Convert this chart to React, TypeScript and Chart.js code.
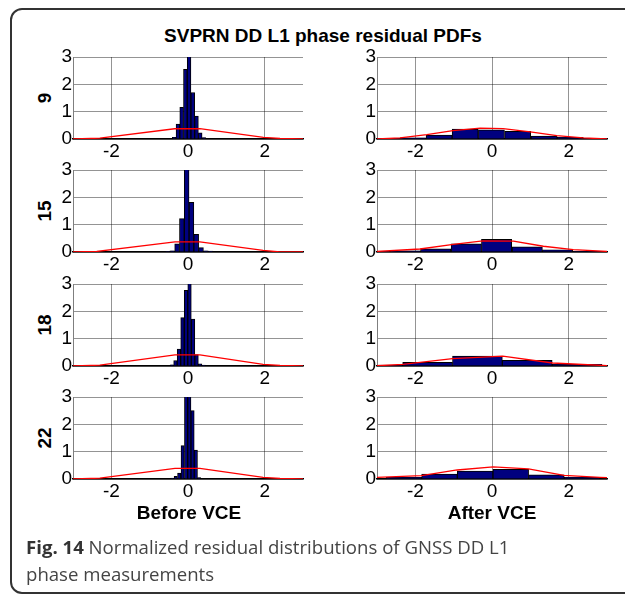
import React, { useEffect, useRef } from "react";
import { Chart, registerables } from "chart.js";

Chart.register(...registerables);

// ---------------- data ----------------
const titleText = "SVPRN DD L1 phase residual PDFs";
const rowLabels = ["9", "15", "18", "22"];
const colTitles = ["Before VCE", "After VCE"];
const xTickValues = [-2, 0, 2];
const yTickValues = [0, 1, 2, 3];

// Before VCE histograms (bin centres / normalised heights)
const before9X = [-0.36, -0.263, -0.166, -0.069, 0.028, 0.125, 0.222, 0.319, 0.416];
const before9Y = [0.06, 0.55, 1.16, 2.55, 3.4, 1.7, 0.84, 0.23, 0.05];
const before15X = [-0.535, -0.41, -0.285, -0.16, -0.035, 0.09, 0.215, 0.34, 0.465, 0.59];
const before15Y = [0.02, 0.04, 0.3, 1.22, 3.4, 1.82, 0.65, 0.16, 0.04, 0.03];
const before18X = [-0.42, -0.328, -0.236, -0.144, -0.052, 0.04, 0.132, 0.224, 0.316, 0.408];
const before18Y = [0.04, 0.2, 0.62, 1.77, 2.77, 3.3, 1.72, 0.42, 0.08, 0.03];
const before22X = [-0.41, -0.32, -0.23, -0.14, -0.05, 0.035, 0.12, 0.205, 0.29];
const before22Y = [0.03, 0.1, 0.22, 1.22, 3.3, 3.5, 2.5, 1.06, 0.05];

// After VCE histograms
const after9X = [-2.74, -2.06, -1.38, -0.7, -0.015, 0.67, 1.36, 2.04, 2.72];
const after9Y = [0.01, 0.04, 0.14, 0.36, 0.34, 0.28, 0.11, 0.06, 0.01];
const after15X = [-3.06, -2.26, -1.47, -0.67, 0.12, 0.92, 1.71, 2.51];
const after15Y = [0.01, 0.04, 0.12, 0.3, 0.46, 0.19, 0.08, 0.02];
const after18X = [-2.98, -1.68, -0.38, 0.92, 2.22];
const after18Y = [0.03, 0.13, 0.36, 0.21, 0.06];
const after22X = [-2.3, -1.37, -0.44, 0.49, 1.42, 2.35];
const after22Y = [0.06, 0.18, 0.29, 0.35, 0.15, 0.06];

const beforeCurve9X = [-3, -2.3, -0.35, 0.31, 1.97, 2.4, 3];
const beforeCurve9Y = [0.0, 0.03, 0.375, 0.38, 0.057, 0.02, 0.0];
const beforeCurve15X = [-3, -2.38, -0.34, 0.31, 1.96, 2.4, 3];
const beforeCurve15Y = [0.0, 0.02, 0.37, 0.37, 0.06, 0.0, 0.0];
const beforeCurve18X = [-3, -2.3, -0.34, 0.31, 1.96, 2.4, 3];
const beforeCurve18Y = [0.0, 0.03, 0.41, 0.41, 0.06, 0.02, 0.0];
const beforeCurve22X = [-3, -2.3, -0.34, 0.31, 1.96, 2.4, 3];
const beforeCurve22Y = [0.0, 0.03, 0.39, 0.39, 0.06, 0.02, 0.0];

const afterCurve9X = [-3, -2.4, -1.7, -1.02, -0.31, 0.29, 1.0, 1.69, 2.38, 3];
const afterCurve9Y = [0.0, 0.04, 0.16, 0.31, 0.395, 0.38, 0.26, 0.12, 0.04, 0.0];
const afterCurve15X = [-3, -1.88, -1.01, -0.24, 0.56, 1.34, 2.12, 3];
const afterCurve15Y = [0.02, 0.11, 0.28, 0.41, 0.4, 0.21, 0.09, 0.02];
const afterCurve18X = [-3, -2.33, -1.03, 0.28, 1.58, 2.89, 3];
const afterCurve18Y = [0.01, 0.06, 0.27, 0.36, 0.11, 0.02, 0.01];
const afterCurve22X = [-3, -1.84, -0.91, 0.03, 0.95, 1.88, 2.82, 3];
const afterCurve22Y = [0.06, 0.12, 0.33, 0.44, 0.37, 0.13, 0.06, 0.05];

// ---------------- layout ----------------
const AXW = 45; // y-axis width inside canvas
const PADT = 16;
const PADR = 10;
const PLOT_W = 230;
const PLOT_H = 82;
const XAXH = 28;
const CW = AXW + PLOT_W + PADR;
const CH = PADT + PLOT_H + XAXH;
const colLeft = [73, 377];
const rowTop = [57, 170, 284, 397];

const tickFont = { family: "'Liberation Sans', Arial, Helvetica, sans-serif", size: 19 };

type PanelProps = {
  binX: number[];
  binY: number[];
  curveX: number[];
  curveY: number[];
  left: number;
  top: number;
};

function Panel({ binX, binY, curveX, curveY, left, top }: PanelProps) {
  const ref = useRef<HTMLCanvasElement | null>(null);
  useEffect(() => {
    const bars = binX.map((x, i) => ({ x, y: binY[i] }));
    const curve = curveX.map((x, i) => ({ x, y: curveY[i] }));
    const chart = new Chart(ref.current as HTMLCanvasElement, {
      type: "bar",
      data: {
        datasets: [
          {
            type: "line",
            data: curve,
            borderColor: "#ff0000",
            borderWidth: 1.3,
            pointRadius: 0,
            tension: 0,
            fill: false,
            order: 0,
          } as any,
          {
            type: "bar",
            data: bars,
            backgroundColor: "#00007f",
            borderColor: "#000000",
            borderWidth: 1,
            barPercentage: 1,
            categoryPercentage: 1,
            order: 1,
          } as any,
        ],
      },
      options: {
        animation: false,
        responsive: false,
        maintainAspectRatio: false,
        events: [],
        layout: { padding: { top: PADT, right: PADR, left: 0, bottom: 0 } },
        plugins: {
          legend: { display: false },
          tooltip: { enabled: false },
          title: { display: false },
        },
        scales: {
          x: {
            type: "linear",
            min: -3,
            max: 3,
            offset: false,
            afterBuildTicks: (s: any) => {
              s.ticks = xTickValues.map((v) => ({ value: v }));
            },
            afterFit: (s: any) => {
              s.height = XAXH;
            },
            grid: { color: "rgba(0,0,0,0.42)", lineWidth: 1, drawTicks: false, offset: false },
            border: { display: true, color: "#000000", width: 1.5 },
            ticks: { font: tickFont, color: "#000", padding: 1, maxRotation: 0, autoSkip: false },
          },
          y: {
            type: "linear",
            min: 0,
            max: 3,
            afterBuildTicks: (s: any) => {
              s.ticks = yTickValues.map((v) => ({ value: v }));
            },
            afterFit: (s: any) => {
              s.width = AXW;
            },
            grid: { color: "rgba(0,0,0,0.42)", lineWidth: 1, drawTicks: false },
            border: { display: true, color: "rgba(0,0,0,0.5)", width: 1 },
            ticks: { font: tickFont, color: "#000", padding: 1, autoSkip: false },
          },
        },
      } as any,
    });
    return () => chart.destroy();
  }, []);
  return (
    <canvas
      ref={ref}
      width={CW}
      height={CH}
      style={{ position: "absolute", left: left - AXW, top: top - PADT, width: CW, height: CH }}
    />
  );
}

const boldFont = "'Liberation Sans', Arial, Helvetica, sans-serif";

function Label({ text, x, y, rotate, size = 19 }: { text: string; x: number; y: number; rotate?: boolean; size?: number }) {
  return (
    <div
      style={{
        position: "absolute",
        left: x,
        top: y,
        transform: `translate(-50%, -50%)${rotate ? " rotate(-90deg)" : ""}`,
        fontFamily: boldFont,
        fontWeight: "bold",
        fontSize: size,
        lineHeight: 1,
        whiteSpace: "nowrap",
        color: "#000",
      }}
    >
      {text}
    </div>
  );
}

export default function App() {
  const before = [
    [before9X, before9Y, beforeCurve9X, beforeCurve9Y],
    [before15X, before15Y, beforeCurve15X, beforeCurve15Y],
    [before18X, before18Y, beforeCurve18X, beforeCurve18Y],
    [before22X, before22Y, beforeCurve22X, beforeCurve22Y],
  ];
  const after = [
    [after9X, after9Y, afterCurve9X, afterCurve9Y],
    [after15X, after15Y, afterCurve15X, afterCurve15Y],
    [after18X, after18Y, afterCurve18X, afterCurve18Y],
    [after22X, after22Y, afterCurve22X, afterCurve22Y],
  ];
  return (
    <div
      style={{
        position: "absolute",
        left: 0,
        top: 0,
        width: 625,
        height: 595,
        overflow: "hidden",
        background: "#fff",
      }}
    >
      <div
        style={{
          position: "absolute",
          left: 10,
          top: 8,
          width: 660,
          height: 582,
          border: "2px solid #333",
          borderRadius: 12,
        }}
      />
      <Label text={titleText} x={323} y={35} />
      {rowLabels.map((t, i) => (
        <Label key={t} text={t} x={44} y={rowTop[i] + PLOT_H / 2} rotate />
      ))}
      {[before, after].map((col, c) =>
        col.map((d, r) => (
          <Panel
            key={`${c}-${r}`}
            binX={d[0]}
            binY={d[1]}
            curveX={d[2]}
            curveY={d[3]}
            left={colLeft[c]}
            top={rowTop[r]}
          />
        ))
      )}
      <Label text={colTitles[0]} x={189} y={512} />
      <Label text={colTitles[1]} x={492} y={512} />
      <div
        style={{
          position: "absolute",
          left: 26,
          top: 534,
          fontFamily: "'Open Sans', 'Noto Sans', sans-serif",
          fontSize: 18.6,
          lineHeight: "26.5px",
          color: "#444",
          whiteSpace: "nowrap",
        }}
      >
        <span style={{ fontWeight: "bold", color: "#333" }}>Fig. 14</span> Normalized residual distributions of GNSS DD L1
        <br />
        phase measurements
      </div>
    </div>
  );
}
